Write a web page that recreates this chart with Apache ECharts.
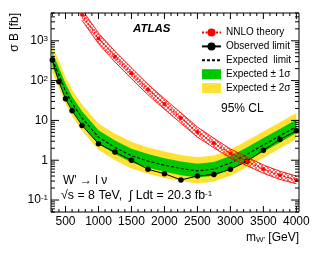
<!DOCTYPE html>
<html><head><meta charset="utf-8">
<script src="https://cdn.jsdelivr.net/npm/echarts@6/dist/echarts.min.js"></script>
<style>html,body{margin:0;padding:0;background:#fff}#c{width:316px;height:253px}</style>
</head><body><div id="c"></div>
<script>
// ---------- data ----------
const masses   = [300, 400, 500, 600, 750, 1000, 1250, 1500, 1750, 2000, 2250, 2500, 2750, 3000, 3250, 3500, 3750, 4000];
const observed = [330, 94, 35, 17.5, 7.5, 2.6, 1.6, 1.0, 0.59, 0.46, 0.32, 0.40, 0.44, 0.59, 0.94, 1.78, 3.3, 5.5];
const expected = [340, 140, 55, 27, 11.5, 3.8, 2.1, 1.3, 0.95, 0.75, 0.62, 0.54, 0.60, 0.85, 1.4, 2.4, 4.1, 7.0];
const exp1Up   = [510, 210, 83, 40, 17, 5.7, 3.15, 1.95, 1.43, 1.12, 0.93, 0.81, 0.90, 1.28, 2.1, 3.6, 6.1, 10.5];
const exp1Dn   = [230, 95, 37, 18.4, 7.8, 2.6, 1.43, 0.88, 0.65, 0.51, 0.42, 0.37, 0.41, 0.58, 0.95, 1.63, 2.8, 4.8];
const exp2Up   = [750, 310, 121, 59, 25, 8.4, 4.6, 2.9, 2.1, 1.65, 1.36, 1.19, 1.32, 1.87, 3.1, 5.3, 9.0, 15.4];
const exp2Dn   = [163, 67, 26, 13, 5.5, 1.82, 1.0, 0.62, 0.46, 0.36, 0.30, 0.26, 0.29, 0.41, 0.67, 1.15, 1.97, 3.4];

const theoryMasses = [750, 1000, 1250, 1500, 1750, 2000, 2250, 2500, 2750, 3000, 3250, 3500, 3750, 4000];
const theory       = [4500, 1150, 400, 153, 60, 26, 11.5, 5.1, 2.7, 1.48, 0.94, 0.60, 0.42, 0.32];
const theoryUp     = [6100, 1560, 545, 208, 81, 35, 15.5, 6.8, 3.55, 1.92, 1.2, 0.76, 0.53, 0.40];
const theoryDn     = [3300, 845, 294, 112, 44, 19.1, 8.5, 3.8, 2.05, 1.14, 0.73, 0.47, 0.33, 0.255];

const xTickLabels = [500, 1000, 1500, 2000, 2500, 3000, 3500, 4000];
const yTickLabels = [0.1, 1, 10, 100, 1000];

const X_MIN = 280, X_MAX = 4040, Y_MIN = 0.05, Y_MAX = 5000;
const FONT = '"Liberation Sans", Arial, Helvetica, sans-serif';

// tick positions (x: every 100 GeV, y: 1..9 x 10^k)
const xTicks = [];
for (let m = 300; m <= 4000; m += 100) xTicks.push([m, m % 500 === 0 ? 6 : 3]);
const yTicks = [];
for (let e = -2; e <= 3; e++) for (let k = 1; k <= 9; k++) {
  const v = k * Math.pow(10, e);
  if (v >= Y_MIN && v <= Y_MAX) yTicks.push([v, k === 1 ? 8 : 4]);
}

const chart = echarts.init(document.getElementById('c'), null, {renderer: 'canvas'});

function band(name, up, dn, color, z) {
  return {
    type: 'custom', name: name, z: z, clip: true, silent: true,
    itemStyle: {color: color},
    data: [[masses[0], expected[0]]],
    renderItem: function (params, api) {
      const pts = [];
      for (let i = 0; i < masses.length; i++) pts.push(api.coord([masses[i], up[i]]));
      for (let i = masses.length - 1; i >= 0; i--) pts.push(api.coord([masses[i], dn[i]]));
      return {type: 'polygon', shape: {points: pts}, style: {fill: color, stroke: null}};
    }
  };
}

// hatch pattern for theory band
const pc = document.createElement('canvas');
pc.width = 4; pc.height = 4;
const pctx = pc.getContext('2d');
pctx.strokeStyle = 'rgba(255,0,0,0.75)';
pctx.lineWidth = 0.8;
pctx.beginPath();
pctx.moveTo(0, 4); pctx.lineTo(4, 0);
pctx.moveTo(0, 0); pctx.lineTo(4, 4);
pctx.stroke();

const option = {
  animation: false,
  backgroundColor: '#fff',
  textStyle: {fontFamily: FONT},
  grid: {left: 51, top: 13, right: 17, bottom: 41, show: true, borderColor: '#000', borderWidth: 1, backgroundColor: 'transparent'},
  xAxis: {
    type: 'value', min: X_MIN, max: X_MAX, splitNumber: 8,
    axisLine: {show: false}, axisTick: {show: false}, splitLine: {show: false},
    axisLabel: {
      customValues: xTickLabels, margin: 4, color: '#000', fontSize: 12, fontFamily: FONT,
      formatter: v => (xTickLabels.indexOf(v) >= 0 ? String(v) : '')
    }
  },
  yAxis: {
    type: 'log', min: Y_MIN, max: Y_MAX, logBase: 10,
    axisLine: {show: false}, axisTick: {show: false}, splitLine: {show: false},
    axisLabel: {
      customValues: yTickLabels, margin: 3, color: '#000', fontSize: 12, fontFamily: FONT,
      formatter: function (v) {
        const e = Math.log10(v), r = Math.round(e);
        if (Math.abs(e - r) > 1e-6) return '';
        if (r === 0) return '1';
        if (r === 1) return '10';
        return '10{sup|' + r + '}';
      },
      rich: {sup: {fontSize: 8, verticalAlign: 'top', lineHeight: 8, fontFamily: FONT, color: '#000'}}
    }
  },
  legend: {
    orient: 'vertical', left: 196, top: 22.5, itemWidth: 19, itemHeight: 10, itemGap: 3.9,
    selectedMode: false,
    textStyle: {fontSize: 10, fontFamily: FONT, color: '#000', lineHeight: 10},
    data: [
      {name: 'NNLO theory'},
      {name: 'Observed limit'},
      {name: 'Expected  limit', itemStyle: {color: 'rgba(0,0,0,0)', borderWidth: 0, opacity: 0}},
      {name: 'Expected \u00b1 1\u03c3', icon: 'rect'},
      {name: 'Expected \u00b1 2\u03c3', icon: 'rect'}
    ]
  },
  graphic: [
    {type: 'text', left: 133, top: 23, style: {text: 'ATLAS', font: 'italic bold 11.5px ' + FONT, fill: '#000'}},
    {type: 'text', left: 221, top: 103, style: {text: '95% CL', font: '12px ' + FONT, fill: '#000'}},
    {type: 'text', left: 63, top: 175, style: {text: "W' \u2192 l \u03bd", font: '12px ' + FONT, fill: '#000'}},
    {type: 'text', left: 61, top: 190, style: {
      text: '\u221as = 8 TeV,  \u222b Ldt = 20.3 fb{sup|-1}', font: '12.4px ' + FONT, fill: '#000',
      rich: {sup: {fontSize: 8, verticalAlign: 'top', lineHeight: 8, fontFamily: FONT, fill: '#000'}}
    }},
    {type: 'text', x: 15, y: 13, rotation: Math.PI / 2, style: {
      text: '\u03c3 B [fb]', font: '12px ' + FONT, fill: '#000', align: 'right', verticalAlign: 'middle'
    }},
    {type: 'text', right: 17, top: 232, style: {
      text: 'm{sub|W\'} [GeV]', font: '12px ' + FONT, fill: '#000',
      rich: {sub: {fontSize: 8, verticalAlign: 'bottom', lineHeight: 8, fontFamily: FONT, fill: '#000'}}
    }}
  ],
  series: [
    band('Expected \u00b1 2\u03c3', exp2Up, exp2Dn, '#ffe033', 1),
    band('Expected \u00b1 1\u03c3', exp1Up, exp1Dn, '#00c800', 2),
    {
      type: 'line', name: 'Expected  limit', z: 3, silent: true,
      data: masses.map((m, i) => [m, expected[i]]),
      symbol: 'none', lineStyle: {color: '#000', width: 1.1, type: [3, 2]}, itemStyle: {color: '#000'}
    },
    {
      type: 'line', name: 'Observed limit', z: 4, silent: true,
      data: masses.map((m, i) => [m, observed[i]]),
      symbol: 'circle', symbolSize: 5.5, lineStyle: {color: '#000', width: 1}, itemStyle: {color: '#000'}
    },
    {
      type: 'custom', name: 'theory band', z: 5, clip: true, silent: true,
      data: [[theoryMasses[0], theory[0]]],
      renderItem: function (params, api) {
        const up = [], dn = [];
        for (let i = 0; i < theoryMasses.length; i++) {
          up.push(api.coord([theoryMasses[i], theoryUp[i]]));
          dn.push(api.coord([theoryMasses[i], theoryDn[i]]));
        }
        const poly = up.concat(dn.slice().reverse());
        return {type: 'group', children: [
          {type: 'polygon', shape: {points: poly}, style: {fill: {image: pc, repeat: 'repeat'}, stroke: null}},
          {type: 'polyline', shape: {points: up}, style: {stroke: '#ff0000', lineWidth: 0.9, fill: null}},
          {type: 'polyline', shape: {points: dn}, style: {stroke: '#ff0000', lineWidth: 0.9, fill: null}}
        ]};
      }
    },
    {
      type: 'line', name: 'NNLO theory', z: 6, silent: true,
      data: theoryMasses.map((m, i) => [m, theory[i]]),
      symbol: 'circle', symbolSize: 4, lineStyle: {color: '#ff0000', width: 1.2, type: [2, 1.5]}, itemStyle: {color: '#ff0000'}
    },
    {
      type: 'custom', name: 'ticks', z: 10, silent: true,
      data: xTicks.map(t => [t[0], Y_MIN, t[1], 0]).concat(yTicks.map(t => [X_MIN, t[0], t[1], 1])),
      renderItem: function (params, api) {
        const cs = params.coordSys;
        const len = api.value(2);
        if (api.value(3) === 0) {
          const x = api.coord([api.value(0), Y_MIN])[0];
          return {type: 'group', children: [
            {type: 'line', shape: {x1: x, y1: cs.y + cs.height, x2: x, y2: cs.y + cs.height - len}, style: {stroke: '#000', lineWidth: 1}},
            {type: 'line', shape: {x1: x, y1: cs.y, x2: x, y2: cs.y + len}, style: {stroke: '#000', lineWidth: 1}}
          ]};
        }
        const y = api.coord([X_MIN, api.value(1)])[1];
        return {type: 'group', children: [
          {type: 'line', shape: {x1: cs.x, y1: y, x2: cs.x + len, y2: y}, style: {stroke: '#000', lineWidth: 1}},
          {type: 'line', shape: {x1: cs.x + cs.width, y1: y, x2: cs.x + cs.width - len, y2: y}, style: {stroke: '#000', lineWidth: 1}}
        ]};
      }
    }
  ]
};
chart.setOption(option);
</script></body></html>
